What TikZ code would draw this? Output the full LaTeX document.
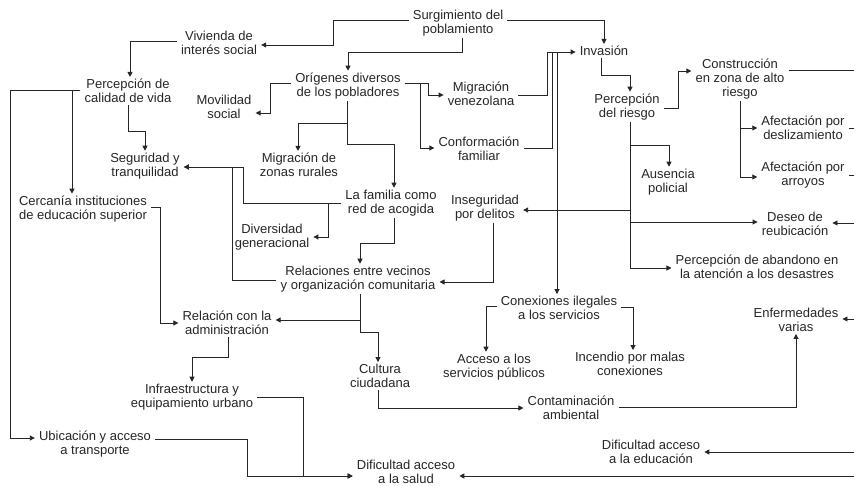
\documentclass[tikz,border=0pt]{standalone}
\usepackage{fontspec}
\setmainfont{Liberation Sans}
\usetikzlibrary{arrows.meta}
\begin{document}
\begin{tikzpicture}[x=1pt,y=-1pt,
  lbl/.style={align=center,font=\fontsize{13}{14}\selectfont,text=black!85,inner xsep=4pt,inner ysep=2pt},
  con/.style={draw=black!85,line width=0.9pt},
  arr/.style={con,-{Triangle[length=5pt,width=5pt]}}]
\useasboundingbox (0,0) rectangle (854,486);
\fill[white] (0,0) rectangle (854,486);
% nodes
\node[lbl] (surg) at (458,23) {Surgimiento del\\poblamiento};
\node[lbl] (viv) at (219,43) {Vivienda de\\interés social};
\node[lbl] (pcal) at (128,91) {Percepción de\\calidad de vida};
\node[lbl] (movil) at (224,107) {Movilidad\\social};
\node[lbl] (orig) at (348,86) {Orígenes diversos\\de los pobladores};
\node[lbl] (mven) at (481,94) {Migración\\venezolana};
\node[lbl] (conf) at (479,149) {Conformación\\familiar};
\node[lbl] (inv) at (604,51) {Invasión};
\node[lbl] (prie) at (627,107) {Percepción\\del riesgo};
\node[lbl] (cons) at (740,79) {Construcción\\en zona de alto\\riesgo};
\node[lbl] (adesl) at (803,128) {Afectación por\\deslizamiento};
\node[lbl] (aarr) at (803,175) {Afectación por\\arroyos};
\node[lbl] (ausp) at (668,182) {Ausencia\\policial};
\node[lbl] (segt) at (145,166) {Seguridad y\\tranquilidad};
\node[lbl] (mzr) at (299,165) {Migración de\\zonas rurales};
\node[lbl] (fam) at (391,203) {La familia como\\red de acogida};
\node[lbl] (insd) at (485,208) {Inseguridad\\por delitos};
\node[lbl] (divg) at (272,237) {Diversidad\\generacional};
\node[lbl] (cerc) at (83,209) {Cercanía instituciones\\de educación superior};
\node[lbl] (rel) at (358,279) {Relaciones entre vecinos\\y organización comunitaria};
\node[lbl] (deseo) at (795,224) {Deseo de\\reubicación};
\node[lbl] (pab) at (757,267) {Percepción de abandono en\\la atención a los desastres};
\node[lbl] (conex) at (559,308) {Conexiones ilegales\\a los servicios};
\node[lbl] (enf) at (796,320) {Enfermedades\\varias};
\node[lbl] (radm) at (227,323) {Relación con la\\administración};
\node[lbl] (cult) at (380,376) {Cultura\\ciudadana};
\node[lbl] (acc) at (494,367) {Acceso a los\\servicios públicos};
\node[lbl] (inc) at (630,364) {Incendio por malas\\conexiones};
\node[lbl] (infra) at (192,397) {Infraestructura y\\equipamiento urbano};
\node[lbl] (cont) at (571,408) {Contaminación\\ambiental};
\node[lbl] (ubic) at (95,444) {Ubicación y acceso\\a transporte};
\node[lbl] (deduc) at (651,452) {Dificultad acceso\\a la educación};
\node[lbl] (dsal) at (406,472) {Dificultad acceso\\a la salud};
% free ends at the right edge
\coordinate (r1) at (854,70);
\coordinate (r2) at (854,128);
\coordinate (r3) at (854,175);
\coordinate (r4) at (854,223);
\coordinate (r5) at (854,319);
\coordinate (r6) at (854,452);
\coordinate (r7) at (854,476);
% connectors
\draw[arr] (surg.west |- 0,20) -| (333,45) -- (viv.east |- 0,45);
\draw[arr] (462,0 |- surg.south) |- (348,52) -- (orig.north);
\draw[arr] (surg.east |- 0,20) -| (inv.north);
\draw[arr] (viv.west |- 0,41) -| (130,0 |- pcal.north);
\draw[arr] (pcal.south) |- (145,131) -- (segt.north);
\draw[arr] (pcal.west |- 0,90) -| (72,0 |- cerc.north);
\draw[arr] (pcal.west |- 0,90) -- (10,90) |- (ubic.west |- 0,438);
\draw[arr] (orig.west |- 0,83) -| (270,113) -- (movil.east |- 0,113);
\draw[arr] (347,0 |- orig.south) |- (298,123) -- (298,0 |- mzr.north);
\draw[arr] (347,0 |- orig.south) |- (394,144) -- (394,0 |- fam.north);
\draw[arr] (orig.east |- 0,83) -| (428,95) -- (mven.west |- 0,95);
\draw[arr] (orig.east |- 0,83) -| (420,148) -- (conf.west |- 0,148);
\draw[arr] (mven.east |- 0,95) -| (547,52) -- (inv.west |- 0,52);
\draw[con] (conf.east |- 0,148) -| (552,52);
\draw[arr] (557,52) -- (557,0 |- conex.north);
\draw[arr] (601,0 |- inv.south) |- (630,75) -- (630,0 |- prie.north);
\draw[arr] (prie.east |- 0,108) -| (678,71) -- (cons.west |- 0,71);
\draw[arr] (630,0 |- prie.south) |- (669,145) -- (669,0 |- ausp.north);
\draw[arr] (630,0 |- prie.south) |- (insd.east |- 0,210);
\draw[arr] (630,0 |- prie.south) |- (deseo.west |- 0,222);
\draw[arr] (630,0 |- prie.south) |- (pab.west |- 0,268);
\draw[arr] (740,0 |- cons.south) |- (adesl.west |- 0,128);
\draw[arr] (740,0 |- cons.south) |- (aarr.west |- 0,177);
\draw[con] (cons.east |- 0,70) -- (r1);
\draw[con] (adesl.east |- 0,128) -- (r2);
\draw[con] (aarr.east |- 0,175) -- (r3);
\draw[arr] (r4) -- (deseo.east |- r4);
\draw[arr] (r5) -- (enf.east |- r5);
\draw[arr] (r6) -- (deduc.east |- r6);
\draw[arr] (r7) -- (dsal.east |- r7);
\draw[arr] (cont.east |- 0,407) -| (enf.south);
\draw[arr] (378,0 |- cult.south) |- (cont.west |- 0,408);
\draw[arr] (360,0 |- rel.south) |- (378,332) -- (378,0 |- cult.north);
\draw[arr] (360,0 |- rel.south) |- (radm.east |- 0,320);
\draw[arr] (394,0 |- fam.south) |- (360,243) -- (360,0 |- rel.north);
\draw[arr] (493,0 |- insd.south) |- (rel.east |- 0,282);
\draw[arr] (fam.west |- 0,203) -| (243,167) -- (segt.east |- 0,167);
\draw[arr] (328,203) |- (divg.east |- 0,237);
\draw[arr] (rel.west |- 0,280) -| (232,167) -- (segt.east |- 0,167);
\draw[arr] (cerc.east |- 0,207) -| (160,323) -- (radm.west |- 0,323);
\draw[arr] (228,0 |- radm.south) |- (192,357) -- (192,0 |- infra.north);
\draw[arr] (infra.east |- 0,397) -| (303,476) -- (dsal.west |- 0,476);
\draw[arr] (ubic.east |- 0,439) -| (247,476) -- (dsal.west |- 0,476);
\draw[arr] (conex.west |- 0,306) -| (486,0 |- acc.north);
\draw[arr] (conex.east |- 0,307) -| (633,0 |- inc.north);
\end{tikzpicture}
\end{document}
